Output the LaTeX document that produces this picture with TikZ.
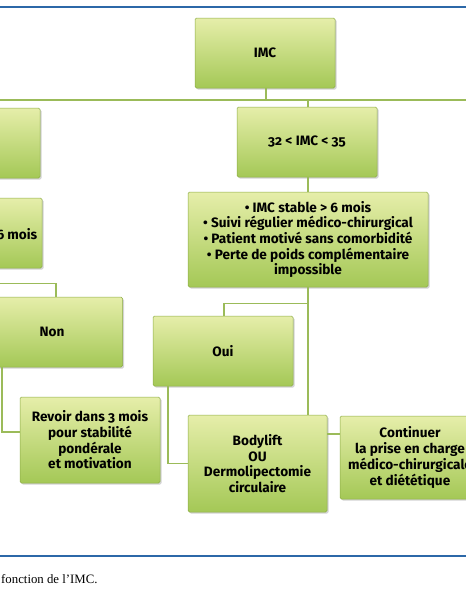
\documentclass[tikz,border=0pt]{standalone}
\usepackage{fontspec}
\setmainfont{Fira Sans}[Numbers=OldStyle]
\newfontfamily\capfont{Liberation Serif}
\usetikzlibrary{shadows}
\definecolor{boxtop}{RGB}{230,238,170}
\definecolor{boxbot}{RGB}{164,200,86}
\definecolor{boxedge}{RGB}{140,172,70}
\definecolor{conn}{RGB}{155,187,89}
\definecolor{rule}{RGB}{44,104,168}
\tikzset{
  gbox/.style={rectangle, rounded corners=1.5pt, draw=boxedge, line width=0.5pt,
    top color=boxtop, bottom color=boxbot,
    drop shadow={shadow xshift=1.5pt, shadow yshift=-1.5pt, opacity=0.35},
    align=center, font=\bfseries\fontsize{13.6}{15.7}\selectfont, inner sep=2pt},
  link/.style={draw=conn, line width=1.1pt},
  bluerule/.style={draw=rule, line width=1.4pt}
}
\begin{document}
\begin{tikzpicture}[x=1pt,y=-1pt]
\useasboundingbox (0,0) rectangle (466,600);
\clip (0,0) rectangle (466,600);
\draw[bluerule] (-5,7) coordinate (r1a) -- (471,7) coordinate (r1b);
\draw[bluerule] (-5,556) coordinate (r2a) -- (471,556) coordinate (r2b);

\node[gbox, minimum width=140pt, minimum height=70pt] (imc) at (265,53) {IMC};
\node[gbox, minimum width=140pt, minimum height=70pt] (b32) at (307,142) {32 < IMC < 35};
\node[gbox, minimum width=140pt, minimum height=70pt] (lt) at (-30,143) {};
\node[gbox, minimum width=142pt, minimum height=70pt] (l6) at (-29,233) {};
\node[anchor=east, font=\bfseries\fontsize{13.6}{15.7}\selectfont, inner sep=0pt] (l6t) at (37.5,234) {6 mois};
\node[gbox, minimum width=141pt, minimum height=70pt] (non) at (52,332) {Non};
\node[gbox, minimum width=140pt, minimum height=86pt] (rev) at (90,440) {Revoir dans 3 mois\\pour stabilité\\pondérale\\et motivation};
\node[gbox, minimum width=240pt, minimum height=95pt] (crit) at (308,239.5) {• IMC stable > 6 mois\\• Suivi régulier médico-chirurgical\\• Patient motivé sans comorbidité\\• Perte de poids complémentaire\\impossible};
\node[gbox, minimum width=140pt, minimum height=70pt] (oui) at (223,351) {Oui};
\node[gbox, minimum width=139pt, minimum height=97pt] (body) at (257.5,463.5) {Bodylift\\OU\\Dermolipectomie\\circulaire};
\node[gbox, minimum width=140pt, minimum height=83pt] (cont) at (410,457.5) {Continuer\\la prise en charge\\médico-chirurgicale\\et diététique};

\coordinate (hl) at (-5,100);
\coordinate (hr) at (471,100);
\draw[link] (hl) -- (hr);
\draw[link] ([xshift=1pt]imc.south) -- ([xshift=1pt]imc.south |- hl);
\draw[link] ([xshift=1pt]b32.north |- hl) -- ([xshift=1pt]b32.north);
\draw[link] (lt.north |- hl) -- (lt.north);
\draw[link] ([xshift=1pt]b32.south) -- ([xshift=1pt]b32.south |- crit.north);
\draw[link] (l6.south) -- ++(0,15) -| ([xshift=4pt]non.north);
\draw[link] ([xshift=-50pt]non.south) |- ([yshift=8pt]rev.west);
\draw[link] (crit.south) -- (crit.south |- body.north);
\draw[link] (crit.south) -- ++(0,16) -| ([xshift=1pt]oui.north);
\draw[link] ([xshift=-55pt]oui.south) |- (body.west);
\draw[link] ([yshift=29.5pt]body.east) coordinate (bc) -- (bc -| cont.west);

\node[anchor=base west, font=\capfont\fontsize{12.8}{15}\selectfont, inner sep=0pt] (cap) at (1,583) {fonction de l’IMC.};
\end{tikzpicture}
\end{document}
